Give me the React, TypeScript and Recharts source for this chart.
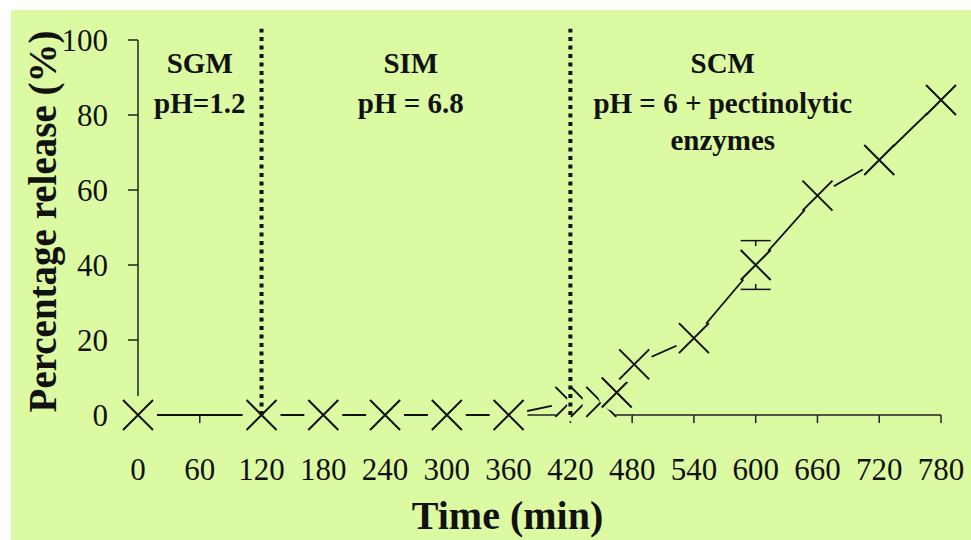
import { ComposedChart, ErrorBar, Line, ReferenceLine, XAxis, YAxis } from "recharts";

// release profile (time in min, % released)
const times = [0, 120, 180, 240, 300, 360, 420, 435, 450, 465, 482, 540, 600, 660, 720, 780];
const release = [0, 0, 0, 0, 0, 0, 3.5, 3.5, 3.5, 6, 13.5, 20.5, 40, 58.5, 68, 84];
const releaseErr = [0, 0, 0, 0, 0, 0, 0, 0, 0, 0, 0, 0, 6.5, 0, 0, 0];

const xTicks = [0, 60, 120, 180, 240, 300, 360, 420, 480, 540, 600, 660, 720, 780];
const yTicks = [0, 20, 40, 60, 80, 100];

// medium switches and the text above each phase
const mediumChanges = [120, 420];
const phaseLabelAt = [60, 265, 568];
const phaseLines = [
  ["SGM", "pH=1.2"],
  ["SIM", "pH = 6.8"],
  ["SCM", "pH = 6 + pectinolytic", "enzymes"],
];

const BG = "#DCFAA2";
const INK = "#111";
const FONT = '"Liberation Serif", "Times New Roman", serif';

const data = times.map((t, i) => ({
  time: t,
  release: release[i],
  err: releaseErr[i] || undefined,
}));

function CrossDot(props: any) {
  const { cx, cy } = props;
  if (cx == null || cy == null) return null;
  const s = 15;
  return (
    <g>
      <circle cx={cx} cy={cy} r={19} fill={BG} />
      <path
        d={`M${cx - s},${cy - s}L${cx + s},${cy + s}M${cx - s},${cy + s}L${cx + s},${cy - s}`}
        stroke={INK}
        strokeWidth={2}
        fill="none"
      />
    </g>
  );
}

function PhaseLabel(props: any) {
  const { viewBox, lines } = props;
  const x = viewBox?.x ?? 0;
  const y = viewBox?.y ?? 30;
  const offsets = [33, 73, 110];
  return (
    <g>
      {lines.map((line: string, i: number) => (
        <text
          key={line}
          x={x}
          y={y + offsets[i]}
          textAnchor="middle"
          fill={INK}
          fontFamily={FONT}
          fontWeight="bold"
          fontSize={29}
        >
          {line}
        </text>
      ))}
    </g>
  );
}

function YTitle(props: any) {
  const vb = props.viewBox ?? { x: 0, y: 30, width: 127, height: 375 };
  const cx = vb.x + 45;
  const cy = vb.y + vb.height / 2 - 6;
  return (
    <text
      x={cx}
      y={cy}
      transform={`rotate(-90, ${cx}, ${cy})`}
      textAnchor="middle"
      fill={INK}
      fontFamily={FONT}
      fontWeight="bold"
      fontSize={39}
    >
      Percentage release (%)
    </text>
  );
}

function XTitle(props: any) {
  const vb = props.viewBox ?? { x: 127, y: 405, width: 803, height: 125 };
  return (
    <text
      x={vb.x + vb.width / 2 - 32}
      y={vb.y + 114}
      textAnchor="middle"
      fill={INK}
      fontFamily={FONT}
      fontWeight="bold"
      fontSize={40}
    >
      Time (min)
    </text>
  );
}

export default function App() {
  return (
    <div style={{ position: "absolute", left: 0, top: 0, width: 971, height: 540, background: "#fff" }}>
      <div style={{ position: "absolute", left: 11, top: 10, width: 960, height: 530, background: BG }}>
        <ComposedChart width={960} height={530} data={data} margin={{ top: 30, right: 30, left: 0, bottom: 0 }}>
          <YAxis
            type="number"
            domain={[0, 100]}
            ticks={yTicks}
            width={127}
            tickSize={10}
            tickMargin={20}
            axisLine={{ stroke: "#222", strokeWidth: 1.5 }}
            tickLine={{ stroke: "#222", strokeWidth: 1.5 }}
            tick={{ fill: INK, fontSize: 31, fontFamily: FONT }}
            label={<YTitle />}
          />
          <XAxis
            dataKey="time"
            type="number"
            domain={[0, 780]}
            ticks={xTicks}
            height={125}
            tickSize={8}
            tickMargin={35}
            interval={0}
            axisLine={{ stroke: "#222", strokeWidth: 1.5 }}
            tickLine={{ stroke: "#222", strokeWidth: 1.5 }}
            tick={{ fill: INK, fontSize: 31, fontFamily: FONT }}
            label={<XTitle />}
          />
          <Line
            dataKey="release"
            stroke={INK}
            strokeWidth={1.8}
            isAnimationActive={false}
            zIndex={600}
            dot={(p: any) => <CrossDot key={`dot-${p.index}`} {...p} />}
            activeDot={false}
          >
            <ErrorBar dataKey="err" width={15} stroke={INK} strokeWidth={1.5} direction="y" />
          </Line>
          {mediumChanges.map((t) => (
            <ReferenceLine
              key={`medium-${t}`}
              segment={[
                { x: t, y: 0 },
                { x: t, y: 103 },
              ]}
              ifOverflow="visible"
              stroke={INK}
              strokeWidth={4}
              strokeDasharray="4 4.5"
              zIndex={700}
            />
          ))}
          {phaseLabelAt.map((t, i) => (
            <ReferenceLine
              key={`phase-${t}`}
              x={t}
              stroke="none"
              label={<PhaseLabel lines={phaseLines[i]} />}
            />
          ))}
        </ComposedChart>
      </div>
    </div>
  );
}
